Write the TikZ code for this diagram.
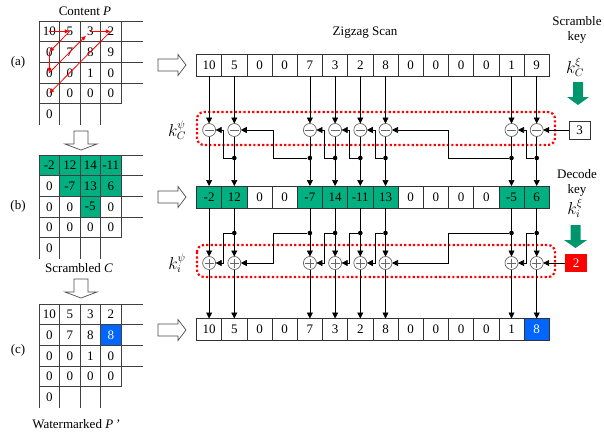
\documentclass[tikz,border=0pt]{standalone}
\usepackage{fontspec}
\setmainfont{Liberation Serif}
\usetikzlibrary{arrows.meta, positioning}
\definecolor{zgreen}{RGB}{0,176,128}
\definecolor{zblue}{RGB}{0,102,255}

\tikzset{
  cell/.style={draw=black!80, line width=0.7pt, minimum width=25.2pt, minimum height=22pt, inner sep=0pt, outer sep=0pt},
  mcell/.style={minimum width=20.5pt, minimum height=20.7pt, inner sep=0pt, outer sep=0pt},
  grn/.style={fill=zgreen}, blu/.style={fill=zblue, text=white}, wht/.style={},
  gridline/.style={black!75, line width=0.7pt},
  opnode/.style={circle, draw=black!60, fill=white, line width=0.7pt, minimum size=13pt, inner sep=0pt, outer sep=0pt},
  subop/.style={opnode, path picture={\draw[line width=0.7pt] ([xshift=-4.5pt]path picture bounding box.center) -- ([xshift=4.5pt]path picture bounding box.center);}},
  addop/.style={opnode, path picture={\draw[line width=0.7pt] ([xshift=-4.5pt]path picture bounding box.center) -- ([xshift=4.5pt]path picture bounding box.center) ([yshift=-4.5pt]path picture bounding box.center) -- ([yshift=4.5pt]path picture bounding box.center);}},
  joint/.style={circle, fill=black, minimum size=4.6pt, inner sep=0pt},
  flow/.style={-{Triangle[length=6pt,width=6pt]}, line width=0.7pt},
  zz/.style={red, line width=0.8pt, -{Latex[length=5pt,width=4.5pt]}},
  guard/.style={red, line width=2.2pt, dash pattern=on 2.2pt off 2.2pt, rounded corners=7pt},
  hollow/.style={draw=black!70, fill=white, line width=0.7pt, line join=miter},
  keyarrow/.style={fill=zgreen!85!black},
  keyfont/.style={font=\fontsize{16}{18}\selectfont},
}

\begin{document}
\begin{tikzpicture}[x=1pt, y=-1pt, font=\fontsize{13}{15}\selectfont]
    \useasboundingbox (0,0) rectangle (604,431);

    % dotted key frames
    \draw[guard] (197,112) rectangle (555,145);
    \draw[guard] (197,245) rectangle (555,277);

    % the three rows of coefficients
    \foreach \v [count=\i] in {10,5,0,0,7,3,2,8,0,0,0,0,1,9}
        \node[cell] (s\i) at ({196.5+25.2*(\i-0.5)},65) {\v};
    \foreach \v/\f [count=\i] in {-2/grn,12/grn,0/wht,0/wht,-7/grn,14/grn,-11/grn,13/grn,0/wht,0/wht,0/wht,0/wht,-5/grn,6/grn}
        \node[cell,\f] (c\i) at ({196.5+25.2*(\i-0.5)},197) {\v};
    \foreach \v/\f [count=\i] in {10/wht,5/wht,0/wht,0/wht,7/wht,3/wht,2/wht,8/wht,0/wht,0/wht,0/wht,0/wht,1/wht,8/blu}
        \node[cell,\f] (w\i) at ({196.5+25.2*(\i-0.5)},329.5) {\v};

    % operators and branch points
    \foreach \i in {1,2,5,6,7,8,13,14} {
        \node[subop] (m\i) at (s\i |- 0,130) {};
        \node[addop] (p\i) at (s\i |- 0,263) {};
    }
    \foreach \i in {2,5,6,7,8,13,14} {
        \node[joint] (dm\i) at (s\i |- 0,158) {};
        \node[joint] (dp\i) at (s\i |- 0,233) {};
    }
    \foreach \i in {1,2,5,6,7,8,13,14} {
        \draw[flow] (s\i) -- (m\i);
        \draw[flow] (m\i) -- (c\i);
        \draw[flow] (c\i) -- (p\i);
        \draw[flow] (p\i) -- (w\i);
    }
    % chained feedback
    \foreach \f/\t/\d in {2/1/10.5, 5/2/36.5, 6/5/10.5, 7/6/10.5, 8/7/10.5, 13/8/63.5, 14/13/10.5} {
        \draw[flow] (dm\f) -- ++(-\d,0) |- (m\t);
        \draw[flow] (dp\f) -- ++(-\d,0) |- (p\t);
    }

    % keys
    \node[draw=black!80, line width=0.7pt, minimum width=21pt, minimum height=18pt, inner sep=0pt] (kc) at (579.5,130) {3};
    \node[fill=red, text=white, minimum width=22pt, minimum height=18pt, inner sep=0pt] (ki) at (576,263) {2};
    \draw[flow] (kc) -- (m14);
    \draw[flow] (ki) -- (p14);
    \fill[keyarrow] (573,82) -- (583,82) -- (583,97) -- (589,97) -- (578,105) -- (567,97) -- (573,97) -- cycle;
    \fill[keyarrow] (570.5,225) -- (580.5,225) -- (580.5,240) -- (587,240) -- (575.5,248) -- (564,240) -- (570.5,240) -- cycle;

    \node[align=center] (lscr) at (577,30) {Scramble\\key};
    \node[keyfont] (kcx) at (575,67) {$k_C^{\xi}$};
    \node[align=center] (ldec) at (577,183) {Decode\\key};
    \node[keyfont] (kix) at (575,208) {$k_i^{\xi}$};
    \node[keyfont] (kcp) at (177,130) {$k_C^{\psi}$};
    \node[keyfont] (kip) at (177,263) {$k_i^{\psi}$};
    \node (lzig) at (365,33) {Zigzag Scan};

    % hollow arrows into the rows
    \foreach \y in {65,197,330}
        \draw[hollow] (158,\y-6) -- (178,\y-6) -- (178,\y-10.5) -- (186,\y) -- (178,\y+10.5) -- (178,\y+6) -- (158,\y+6) -- cycle;

    % left blocks
    \foreach \r/\vals in {1/{10,5,3,2}, 2/{0,7,8,9}, 3/{0,0,1,0}, 4/{0,0,0,0}, 5/{0}}
        \foreach \v [count=\j] in \vals
            \node[mcell] (a\r\j) at ({39+20.5*(\j-0.5)},{21+20.7*(\r-0.5)}) {\v};
    \foreach \r/\vals in {1/{-2/grn,12/grn,14/grn,-11/grn}, 2/{0/wht,-7/grn,13/grn,6/grn}, 3/{0/wht,0/wht,-5/grn,0/wht}, 4/{0/wht,0/wht,0/wht,0/wht}, 5/{0/wht}}
        \foreach \v/\f [count=\j] in \vals
            \node[mcell,\f] (b\r\j) at ({39+20.5*(\j-0.5)},{155+20.7*(\r-0.5)}) {\v};
    \foreach \r/\vals in {1/{10/wht,5/wht,3/wht,2/wht}, 2/{0/wht,7/wht,8/wht,8/blu}, 3/{0/wht,0/wht,1/wht,0/wht}, 4/{0/wht,0/wht,0/wht,0/wht}, 5/{0/wht}}
        \foreach \v/\f [count=\j] in \vals
            \node[mcell,\f] (e\r\j) at ({39+20.5*(\j-0.5)},{304+20.7*(\r-0.5)}) {\v};

    \foreach \t in {21,155,304} {
        \foreach \k in {0,1,2,3}
            \draw[gridline] (39,{\t+20.7*\k}) -- (143,{\t+20.7*\k});
        \draw[gridline] (39,\t+82.8) -- (121,\t+82.8);
        \foreach \xx in {39,59.5,80,100.5}
            \draw[gridline] (\xx,\t) -- (\xx,\t+103.5);
        \draw[gridline] (121,\t) -- (121,\t+82.8);
    }

    % zigzag order
    \draw[zz] (a11.center) -- (a12.center);
    \draw[zz] (a12.center) -- (a21.center);
    \draw[zz] (a21.center) -- (a31.center);
    \draw[zz, shorten >=6pt] (a31.center) -- (a13.center);
    \draw[zz] (a13.center) -- (a14.center);
    \draw[zz] (a14.center) -- (a41.center);

    % hollow arrows between the blocks
    \foreach \y in {131,279}
        \draw[hollow] (74,\y) -- (88,\y) -- (88,\y+13) -- (97,\y+13) -- (81,\y+19) -- (65,\y+13) -- (74,\y+13) -- cycle;

    \node (lcon) at (85,11) {Content \textit{P}};
    \node (lscm) at (79,268) {Scrambled \textit{C}};
    \node (lwat) at (76,424) {Watermarked \textit{P\,'}};
    \node (la) at (18,62) {(a)};
    \node (lb) at (18,206) {(b)};
    \node (lcc) at (18,350) {(c)};
\end{tikzpicture}
\end{document}
